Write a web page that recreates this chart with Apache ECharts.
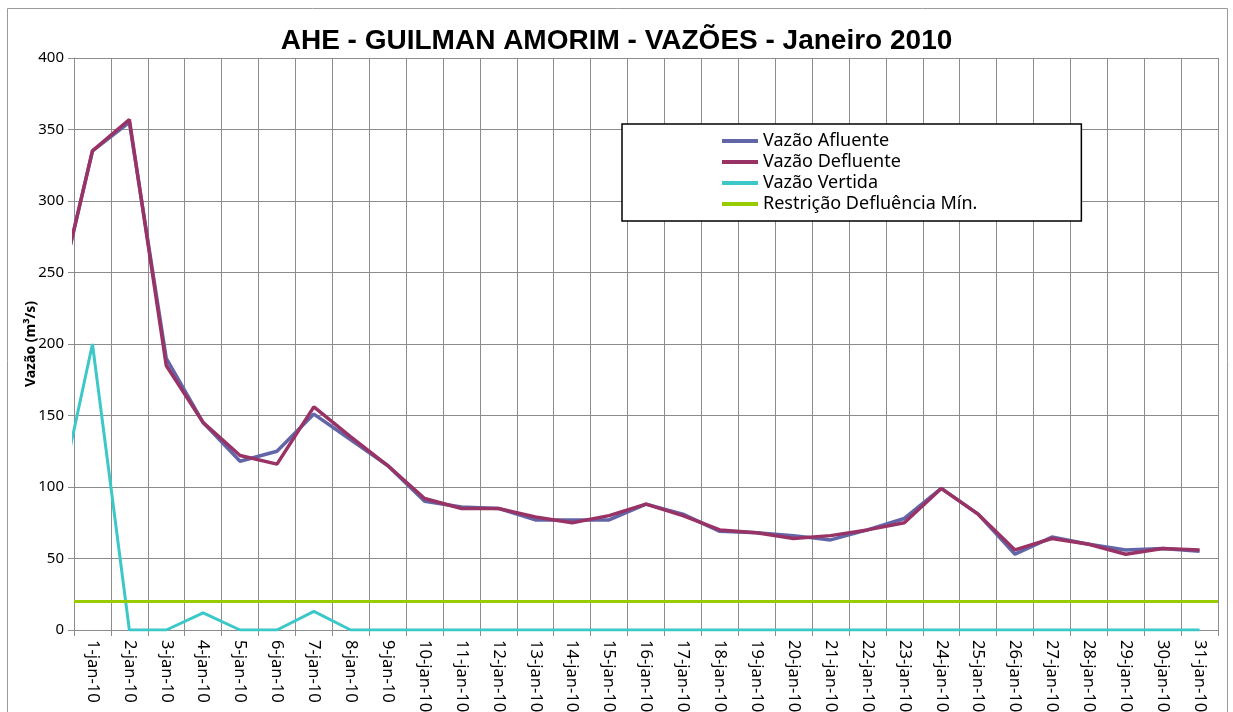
<!DOCTYPE html>
<html>
<head>
<meta charset="utf-8">
<title>AHE - GUILMAN AMORIM - VAZÕES - Janeiro 2010</title>
<script src="https://cdn.jsdelivr.net/npm/echarts@6/dist/echarts.min.js"></script>
<style>
	html, body { margin: 0; padding: 0; background: #fff; }
	#chart { width: 1233px; height: 712px; }
</style>
</head>
<body>
<div id="chart"></div>
<script>
	// dias do mes (rotulos do eixo x)
	var dias = ['1-jan-10','2-jan-10','3-jan-10','4-jan-10','5-jan-10','6-jan-10','7-jan-10','8-jan-10',
		'9-jan-10','10-jan-10','11-jan-10','12-jan-10','13-jan-10','14-jan-10','15-jan-10','16-jan-10',
		'17-jan-10','18-jan-10','19-jan-10','20-jan-10','21-jan-10','22-jan-10','23-jan-10','24-jan-10',
		'25-jan-10','26-jan-10','27-jan-10','28-jan-10','29-jan-10','30-jan-10','31-jan-10'];

	// primeiro valor = 31-dez-09 (so aparece cortado na borda esquerda)
	var afluente = [225, 335, 355, 190, 145, 118, 125, 151, 133, 115, 90, 86, 85, 77, 77, 77,
		88, 81, 69, 68, 66, 63, 70, 78, 99, 81, 53, 65, 60, 56, 57, 55];
	var defluente = [225, 335, 357, 185, 145, 122, 116, 156, 135, 115, 92, 85, 85, 79, 75, 80,
		88, 80, 70, 68, 64, 66, 70, 75, 99, 81, 56, 64, 60, 53, 57, 56];
	var vertida = [80, 200, 0, 0, 12, 0, 0, 13, 0, 0, 0, 0, 0, 0, 0, 0,
		0, 0, 0, 0, 0, 0, 0, 0, 0, 0, 0, 0, 0, 0, 0, 0];
	var restricaoMin = 20;

	var yTicks = [0, 50, 100, 150, 200, 250, 300, 350, 400];

	var fonte = '"Noto Sans", "Open Sans", sans-serif';
	var cinza = '#8c8c8c';

	function pares(arr){
		return arr.map(function(v, i){ return [i, v]; });
	}

	var myChart = echarts.init(document.getElementById('chart'));

	var option = {
		backgroundColor: '#fff',
		animation: false,
		textStyle: { fontFamily: fonte },
		title: {
			text: 'AHE - GUILMAN AMORIM - VAZÕES - Janeiro 2010',
			left: 'center',
			top: 22,
			textStyle: {
				fontFamily: '"Liberation Sans", sans-serif',
				fontWeight: 'bold',
				fontSize: 28,
				color: '#000'
			}
		},
		graphic: [{
			type: 'rect',
			shape: { x: 7.5, y: 8.5, width: 1220, height: 720 },
			style: { fill: 'none', stroke: '#9a9a9a', lineWidth: 1 },
			silent: true
		}],
		legend: {
			orient: 'vertical',
			left: 622,
			top: 124,
			padding: [8, 104, 8, 100],
			itemGap: 3,
			itemWidth: 36,
			itemHeight: 4,
			icon: 'rect',
			borderColor: '#000',
			borderWidth: 1.5,
			backgroundColor: '#fff',
			textStyle: { fontFamily: fonte, fontSize: 18, color: '#000' },
			data: ['Vazão Afluente', 'Vazão Defluente', 'Vazão Vertida', 'Restrição Defluência Mín.']
		},
		grid: {
			left: 74,
			right: 15,
			top: 58,
			bottom: 82,
			outerBoundsMode: 'none'
		},
		xAxis: [
			{
				type: 'value',
				min: 0.5,
				max: 31.5,
				interval: 1,
				axisLine: { show: false },
				axisTick: { show: false },
				axisLabel: { show: false },
				splitLine: { show: true, lineStyle: { color: cinza, width: 1 } }
			},
			{
				type: 'category',
				position: 'bottom',
				data: dias,
				boundaryGap: true,
				axisLine: { lineStyle: { color: cinza, width: 1 } },
				axisTick: { show: true, length: 6, lineStyle: { color: cinza } },
				axisLabel: {
					rotate: -90,
					interval: 0,
					margin: 10,
					hideOverlap: false,
					fontFamily: fonte,
					fontSize: 16.5,
					color: '#000'
				},
				splitLine: { show: false }
			}
		],
		yAxis: {
			type: 'value',
			min: yTicks[0],
			max: yTicks[yTicks.length - 1],
			interval: 50,
			name: 'Vazão (m³/s)',
			nameLocation: 'middle',
			nameGap: 36,
			nameMoveOverlap: false,
			nameTextStyle: { fontFamily: fonte, fontWeight: 'bold', fontSize: 14, color: '#000' },
			axisLine: { show: true, lineStyle: { color: cinza, width: 1 } },
			axisTick: { show: true, length: 6, lineStyle: { color: cinza } },
			axisLabel: { fontFamily: fonte, fontSize: 15, color: '#000', margin: 10 },
			splitLine: { show: true, lineStyle: { color: cinza, width: 1 } }
		},
		series: [
			{
				name: 'Vazão Afluente',
				type: 'line',
				xAxisIndex: 0,
				data: pares(afluente),
				symbol: 'none',
				clip: true,
				color: '#6266a8',
				lineStyle: { width: 3.5, color: '#6266a8' }
			},
			{
				name: 'Vazão Defluente',
				type: 'line',
				xAxisIndex: 0,
				data: pares(defluente),
				symbol: 'none',
				clip: true,
				color: '#993366',
				lineStyle: { width: 3.5, color: '#993366' }
			},
			{
				name: 'Vazão Vertida',
				type: 'line',
				xAxisIndex: 0,
				data: pares(vertida),
				symbol: 'none',
				clip: true,
				color: '#3cc8c8',
				lineStyle: { width: 3, color: '#3cc8c8' }
			},
			{
				name: 'Restrição Defluência Mín.',
				type: 'line',
				xAxisIndex: 0,
				data: [],
				color: '#99cc00',
				lineStyle: { width: 3, color: '#99cc00' },
				markLine: {
					silent: true,
					symbol: 'none',
					label: { show: false },
					lineStyle: { type: 'solid', width: 3, color: '#99cc00' },
					data: [{ yAxis: restricaoMin }]
				}
			}
		]
	};

	myChart.setOption(option);
</script>
</body>
</html>
